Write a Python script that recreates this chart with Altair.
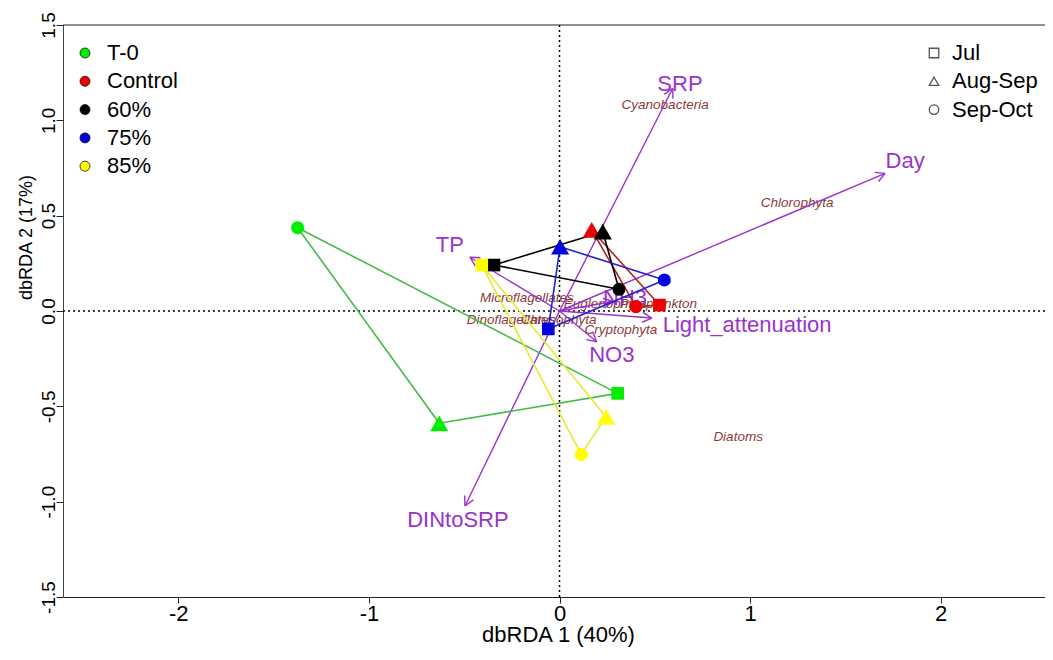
import altair as alt
import pandas as pd
import numpy as np

FONT = "Liberation Sans"

# ---------------- data ----------------
treatments = ["T-0", "Control", "60%", "75%", "85%"]
seasons = ["Jul", "Aug-Sep", "Sep-Oct"]

site_treatment = ["T-0"] * 3 + ["Control"] * 3 + ["60%"] * 3 + ["75%"] * 3 + ["85%"] * 3
site_season = seasons * 5
site_x = [0.305, -0.631, -1.374,
          0.524, 0.169, 0.401,
          -0.344, 0.227, 0.312,
          -0.059, 0.003, 0.550,
          -0.408, 0.244, 0.114]
site_y = [-0.432, -0.589, 0.437,
          0.031, 0.425, 0.023,
          0.241, 0.416, 0.114,
          -0.094, 0.337, 0.163,
          0.241, -0.555, -0.752]

env_names = ["SRP", "Day", "TP", "DINtoSRP", "NO3", "Light_attenuation", "NH3"]
env_x = [0.594, 1.708, -0.470, -0.496, 0.195, 0.484, 0.280]
env_y = [1.168, 0.722, 0.282, -1.023, -0.161, -0.037, 0.050]
env_label_x = [0.632, 1.813, -0.575, -0.533, 0.274, 0.984, 0.344]
env_label_y = [1.191, 0.787, 0.346, -1.097, -0.231, -0.073, 0.068]

species = ["Cyanobacteria", "Chlorophyta", "Diatoms", "Microflagellates",
           "Dinoflagellates", "Chrysophyta", "Cryptophyta", "Euglenophyta", "Picoplankton"]
sp_x = [0.554, 1.246, 0.937, -0.171, -0.255, -0.005, 0.322, 0.239, 0.519]
sp_y = [1.081, 0.567, -0.661, 0.068, -0.047, -0.047, -0.100, 0.037, 0.037]

# ---------------- styles ----------------
point_colors = ["#00EE00", "#EE0000", "#000000", "#0000DD", "#FFFF00"]
line_colors = ["#44BB44", "#B22222", "#000000", "#2222CC", "#E8E830"]
shapes = ["square", "triangle-up", "circle"]
shape_sizes = [160, 330, 170]
purple = "#9933CC"
brown = "#8B3A3A"

# ---------------- tables ----------------
sites = pd.DataFrame({"treatment": site_treatment, "season": site_season,
                      "x": site_x, "y": site_y})

line_color_of = dict(zip(treatments, line_colors))
edges = []
for t in treatments:
    g = sites[sites.treatment == t].reset_index(drop=True)
    for a, b in [(0, 1), (1, 2), (2, 0)]:
        edges.append({"treatment": t, "lc": line_color_of[t],
                      "x": g.x[a], "y": g.y[a], "x2": g.x[b], "y2": g.y[b]})
edges = pd.DataFrame(edges)

env = pd.DataFrame({"name": env_names, "x": env_x, "y": env_y,
                    "lx": env_label_x, "ly": env_label_y})
env["x0"] = 0.0
env["y0"] = 0.0
theta = np.arctan2(env.y, env.x)
L = 0.055
phi = np.radians(28)
heads = pd.concat([
    pd.DataFrame({"x": env.x, "y": env.y,
                  "x2": env.x - L * np.cos(theta - phi), "y2": env.y - L * np.sin(theta - phi)}),
    pd.DataFrame({"x": env.x, "y": env.y,
                  "x2": env.x - L * np.cos(theta + phi), "y2": env.y - L * np.sin(theta + phi)}),
])

spec = pd.DataFrame({"name": species, "x": sp_x, "y": sp_y})

# ---------------- scales / axes ----------------
xscale = alt.Scale(domain=[-2.605, 2.547], nice=False, zero=False)
yscale = alt.Scale(domain=[-1.5, 1.5], nice=False, zero=False)

fix_minus = "replace(format(datum.value, '{f}'), '\u2212', '-')"

xaxis = alt.Axis(values=[-2, -1, 0, 1, 2], labelExpr=fix_minus.format(f="d"), grid=False,
                 domainColor="#222", tickColor="#222", tickSize=6, labelPadding=0,
                 labelFontSize=22, labelFont=FONT, labelColor="black",
                 title="dbRDA 1 (40%)", titleFontSize=22, titleFont=FONT,
                 titleFontWeight="normal", titleColor="black",
                 titleX=495, titleY=37, titleBaseline="middle", titleAlign="center")
yaxis = alt.Axis(values=[-1.5, -1.0, -0.5, 0.0, 0.5, 1.0, 1.5], labelExpr=fix_minus.format(f=".1f"),
                 grid=False, domainColor="#444", tickColor="#222", tickSize=7, labelPadding=2,
                 labelAngle=270, labelAlign="center", labelBaseline="alphabetic",
                 labelFontSize=19, labelFont=FONT, labelColor="black",
                 title="dbRDA 2 (17%)", titleFontSize=18, titleFont=FONT,
                 titleFontWeight="normal", titleColor="black", titleAngle=270,
                 titleX=-37, titleY=212, titleBaseline="middle", titleAlign="center")

X = lambda f="x": alt.X(f"{f}:Q", scale=xscale, axis=xaxis)
Y = lambda f="y": alt.Y(f"{f}:Q", scale=yscale, axis=yaxis)

base_one = alt.Chart(pd.DataFrame({"v": [0]}))

zero_v = base_one.mark_rule(color="black", strokeDash=[2, 3], strokeWidth=1.5).encode(
    x=alt.datum(0, scale=xscale))
zero_h = base_one.mark_rule(color="black", strokeDash=[2, 3], strokeWidth=1.5).encode(
    y=alt.datum(0, scale=yscale))
top_line = base_one.mark_rule(color="#222", strokeWidth=1.2).encode(y=alt.datum(1.5, scale=yscale))

species_text = alt.Chart(spec).mark_text(font=FONT, fontSize=13.5, fontStyle="italic",
                                         color=brown).encode(x=X(), y=Y(), text="name:N")

arrows = alt.Chart(env).mark_rule(color=purple, strokeWidth=1.4).encode(
    x=X("x0"), y=Y("y0"), x2="x:Q", y2="y:Q")
arrow_heads = alt.Chart(heads).mark_rule(color=purple, strokeWidth=1.4).encode(
    x=X("x"), y=Y("y"), x2="x2:Q", y2="y2:Q")
env_text = alt.Chart(env).mark_text(font=FONT, fontSize=22, color=purple).encode(
    x=X("lx"), y=Y("ly"), text="name:N")

site_lines = alt.Chart(edges).mark_rule(strokeWidth=1.6).encode(
    x=X(), y=Y(), x2="x2:Q", y2="y2:Q",
    stroke=alt.Stroke("lc:N", scale=None, legend=None))

color_enc = alt.Color("treatment:N", scale=alt.Scale(domain=treatments, range=point_colors),
                      sort=treatments,
                      legend=alt.Legend(orient="none", legendX=11, legendY=17, title=None,
                                        symbolType="circle", symbolSize=100,
                                        symbolStrokeColor="#111", symbolStrokeWidth=0.8,
                                        labelFontSize=22, labelFont=FONT, labelColor="black",
                                        rowPadding=6.3, labelOffset=11, padding=0))
shape_enc = alt.Shape("season:N", scale=alt.Scale(domain=seasons, range=shapes), sort=seasons,
                      legend=alt.Legend(orient="none", legendX=860, legendY=17, title=None,
                                        symbolSize=90, symbolFillColor="white",
                                        symbolStrokeColor="#555", symbolStrokeWidth=1.3,
                                        labelFontSize=22, labelFont=FONT, labelColor="black",
                                        rowPadding=6.3, labelOffset=7, padding=0))

point_layers = []
for s, sz in zip(seasons, shape_sizes):
    point_layers.append(
        alt.Chart(sites[sites.season == s]).mark_point(filled=True, opacity=1, strokeWidth=0, size=sz)
        .encode(x=X(), y=Y(), color=color_enc, shape=shape_enc)
    )

chart = alt.layer(
    zero_v, zero_h, top_line, species_text, arrows, arrow_heads, env_text, site_lines, *point_layers
).properties(
    width=982, height=572,
    autosize=alt.AutoSizeParams(type="none"),
    padding={"left": 55, "top": 17, "right": 0, "bottom": 54},
).configure_view(stroke=None).configure_legend(
    symbolBaseFillColor="white", symbolBaseStrokeColor="#555")

chart.save("out.html", embed_options={"renderer": "svg", "actions": False})
